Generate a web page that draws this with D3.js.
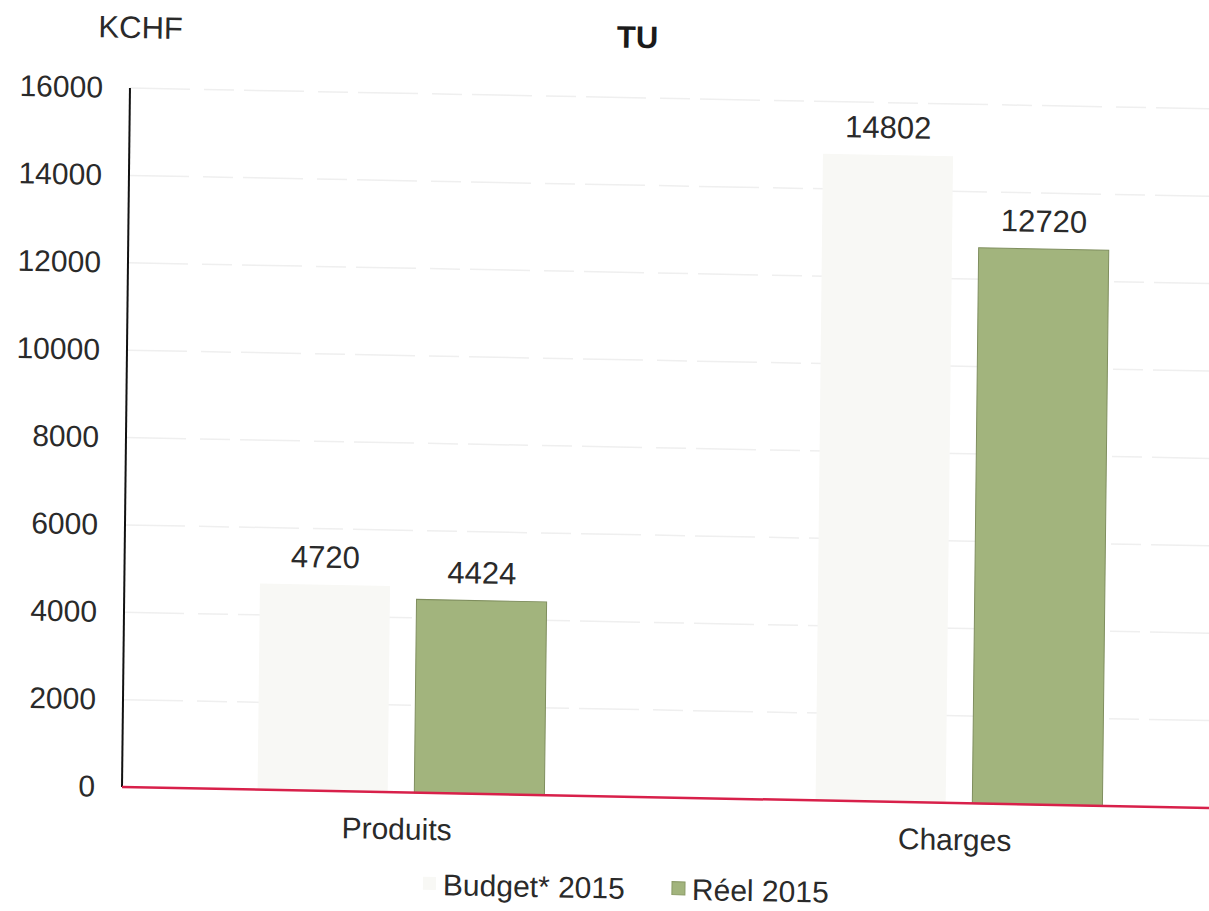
<!DOCTYPE html>
<html>
<head>
<meta charset="utf-8">
<script src="https://cdn.jsdelivr.net/npm/d3@7"></script>
<style>
  html, body { margin: 0; padding: 0; background: #fff; }
  svg { display: block; font-family: "Liberation Sans", Arial, sans-serif; }
</style>
</head>
<body>
<svg id="chart" width="1209" height="911"></svg>
<script>
const categories = ['Produits', 'Charges'];
const series = ['Budget* 2015', 'Réel 2015'];
const budget2015 = [4720, 14802];
const reel2015 = [4424, 12720];
const yTicks = [0, 2000, 4000, 6000, 8000, 10000, 12000, 14000, 16000];
const seriesColors = ['#f8f8f5', '#a2b47d'];

const svg = d3.select('#chart');
svg.append('rect').attr('width', 1209).attr('height', 911).attr('fill', '#fff');

// origin of the plot (where axis meets baseline)
const ox = 122, oy = 787;

// the scan is slightly skewed: baseline drops to the right, axis leans right
const g = svg.append('g')
    .attr('transform', `translate(${ox},${oy}) matrix(1,0.0193,-0.0114,1,0,0) translate(${-ox},${-oy})`);

const y = d3.scaleLinear().domain([0, 16000]).range([oy, oy - 699]);
const x0 = d3.scaleBand().domain(categories).range([ox, ox + 1116])
    .paddingInner(0.486).paddingOuter(0.243);
const x1 = d3.scaleBand().domain(series).range([0, x0.bandwidth()]).paddingInner(0.17);

const rows = categories.map((c, i) => ({ cat: c, values: [budget2015[i], reel2015[i]] }));

// grid
g.append('g').selectAll('line')
    .data(yTicks.filter(t => t > 0))
    .join('line')
    .attr('x1', ox).attr('x2', ox + 1130)
    .attr('y1', d => y(d)).attr('y2', d => y(d))
    .attr('stroke', '#efefef')
    .attr('stroke-width', 1.5)
    .attr('stroke-dasharray', '60 14 30 10');

// tick labels
const yAxis = g.append('g')
    .attr('transform', `translate(${ox},0)`)
    .call(d3.axisLeft(y).tickValues(yTicks).tickSize(0).tickPadding(27).tickFormat(d3.format('d')));
yAxis.select('.domain').remove();
yAxis.selectAll('text')
    .attr('font-size', 30)
    .attr('font-family', '"Liberation Sans", Arial, sans-serif')
    .attr('fill', '#2a2a2a');

// bars
const groups = g.append('g').selectAll('g')
    .data(rows)
    .join('g')
    .attr('transform', d => `translate(${x0(d.cat)},0)`);

groups.selectAll('rect')
    .data(d => d.values.map((v, i) => ({ key: series[i], v, i })))
    .join('rect')
    .attr('x', d => x1(d.key))
    .attr('width', x1.bandwidth())
    .attr('y', d => y(d.v))
    .attr('height', d => y(0) - y(d.v))
    .attr('fill', d => seriesColors[d.i])
    .attr('stroke', d => d.i === 1 ? '#7f8e5e' : 'none')
    .attr('stroke-width', 1);

groups.selectAll('text.val')
    .data(d => d.values.map((v, i) => ({ key: series[i], v })))
    .join('text')
    .attr('class', 'val')
    .attr('x', d => x1(d.key) + x1.bandwidth() / 2)
    .attr('y', d => y(d.v) - 17)
    .attr('text-anchor', 'middle')
    .attr('font-size', 31)
    .attr('fill', '#2a2a2a')
    .text(d => d.v);

// category labels
g.append('g').selectAll('text')
    .data(categories)
    .join('text')
    .attr('x', d => x0(d) + x0.bandwidth() / 2 - 4)
    .attr('y', oy + 47)
    .attr('text-anchor', 'middle')
    .attr('font-size', 30)
    .attr('fill', '#2a2a2a')
    .text(d => d);

// axis line and red baseline
g.append('line')
    .attr('x1', ox).attr('x2', ox)
    .attr('y1', y(16000)).attr('y2', y(0))
    .attr('stroke', '#111').attr('stroke-width', 2);
g.append('line')
    .attr('x1', ox).attr('x2', ox + 1130)
    .attr('y1', y(0)).attr('y2', y(0))
    .attr('stroke', '#d8204a').attr('stroke-width', 2.5);

// unit and title
g.append('text')
    .attr('x', 132).attr('y', 38)
    .attr('text-anchor', 'middle')
    .attr('font-size', 31)
    .attr('fill', '#2a2a2a')
    .text('KCHF');
g.append('text')
    .attr('x', 629).attr('y', 38)
    .attr('text-anchor', 'middle')
    .attr('font-size', 31)
    .attr('font-weight', 'bold')
    .attr('fill', '#1a1a1a')
    .text('TU');

// legend
const legendX = [424, 673];
const legend = g.append('g').selectAll('g')
    .data(series)
    .join('g')
    .attr('transform', (d, i) => `translate(${legendX[i]},889)`);
legend.append('rect')
    .attr('x', 0).attr('y', -18)
    .attr('width', 13).attr('height', 13)
    .attr('fill', (d, i) => seriesColors[i])
    .attr('stroke', (d, i) => i === 1 ? '#8a9a66' : 'none');
legend.append('text')
    .attr('x', 20).attr('y', 0)
    .attr('font-size', 30)
    .attr('fill', '#2a2a2a')
    .text(d => d);
</script>
</body>
</html>
